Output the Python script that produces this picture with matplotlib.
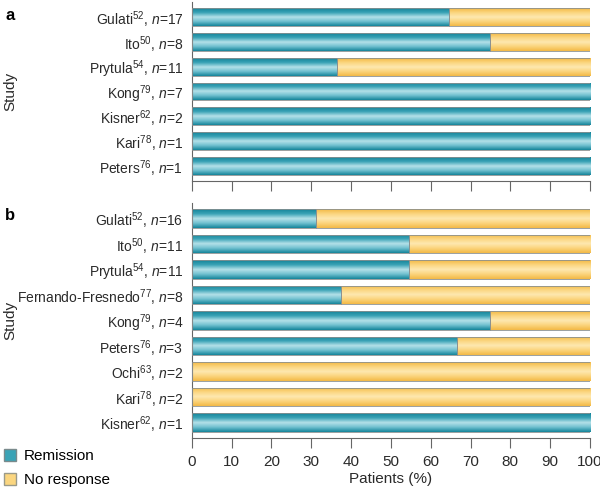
import numpy as np
import matplotlib.pyplot as plt
from matplotlib.colors import LinearSegmentedColormap
from matplotlib.patches import Patch

plt.rcParams["font.family"] = ["Liberation Sans", "DejaVu Sans"]
plt.rcParams["mathtext.fontset"] = "custom"
plt.rcParams["mathtext.rm"] = "Liberation Sans"
plt.rcParams["mathtext.it"] = "Liberation Sans:italic"

# -------------------------- Data --------------------------
studies_a = ["Gulati", "Ito", "Prytula", "Kong", "Kisner", "Kari", "Peters"]
refs_a = [52, 50, 54, 79, 62, 78, 76]
n_a = [17, 8, 11, 7, 2, 1, 1]
remission_a = [64.7, 75.0, 36.4, 100, 100, 100, 100]

studies_b = ["Gulati", "Ito", "Prytula", "Fernando-Fresnedo", "Kong", "Peters", "Ochi", "Kari", "Kisner"]
refs_b = [52, 50, 54, 77, 79, 76, 63, 78, 62]
n_b = [16, 11, 11, 8, 4, 3, 2, 2, 1]
remission_b = [31.25, 54.5, 54.5, 37.5, 75.0, 66.7, 0, 0, 100]

teal_cmap = LinearSegmentedColormap.from_list(
    "teal", ["#15849a", "#3aa3b6", "#b5e1e9", "#6fc0cf", "#15849a"])
yellow_cmap = LinearSegmentedColormap.from_list(
    "yellow", ["#f3b946", "#fbd680", "#fee8b0", "#fbd47c", "#f3b946"])
text_col = "#2a2a2a"


# -------------------------- Helpers --------------------------
def gradient_fill(ax, bars, cmap):
    grad = np.linspace(0, 1, 64).reshape(-1, 1)
    for bar in bars:
        w = bar.get_width()
        if w <= 0:
            continue
        x0, y0 = bar.get_x(), bar.get_y()
        h = bar.get_height()
        im = ax.imshow(grad, cmap=cmap, aspect="auto", interpolation="bilinear",
                       extent=(x0, x0 + w, y0 + h, y0), zorder=2)
        im.set_clip_path(bar)


def plot_panel(ax, studies, refs, ns, remission, show_xlabels):
    labels = [rf"{s}$^{{{r}}}$, $\it{{n}}$={n}" for s, r, n in zip(studies, refs, ns)]
    y = np.arange(len(studies))
    no_resp = [100 - v for v in remission]

    bars_r = ax.barh(y, remission, height=0.72, color="#2a97aa",
                     edgecolor="none", zorder=1)
    bars_n = ax.barh(y, no_resp, left=remission, height=0.72, color="#f8cc6a",
                     edgecolor="none", zorder=1)
    gradient_fill(ax, bars_r, teal_cmap)
    gradient_fill(ax, bars_n, yellow_cmap)
    # thin outlines on top of the gradients
    for b in list(bars_r) + list(bars_n):
        if b.get_width() > 0:
            ax.add_patch(plt.Rectangle((b.get_x(), b.get_y()), b.get_width(), b.get_height(),
                                       fill=False, edgecolor="#8a9090", linewidth=0.6, zorder=3))

    ax.set_yticks(y)
    ax.set_yticklabels(labels, fontsize=10, color=text_col)
    ax.set_ylim(len(studies) - 0.4, -0.6)
    ax.set_xlim(0, 100)
    ax.set_xticks(range(0, 101, 10))
    ax.tick_params(axis="y", length=0, pad=6)
    ax.tick_params(axis="x", length=7.5, width=0.8, color="#666666", direction="out",
                   labelsize=11, labelcolor=text_col, pad=5)
    if not show_xlabels:
        ax.tick_params(axis="x", labelbottom=False)
    for side in ["top", "right"]:
        ax.spines[side].set_visible(False)
    for side in ["left", "bottom"]:
        ax.spines[side].set_color("#666666")
        ax.spines[side].set_linewidth(0.8)
    ax.set_ylabel("Study", fontsize=11, color=text_col)
    ax.yaxis.set_label_coords(-(191.7 - 17) / (590 - 191.7), 0.5)


# -------------------------- Main --------------------------
fig = plt.figure(figsize=(6.0, 4.91), dpi=100)
W, H = 600, 491
ax_a = fig.add_axes([191.7 / W, 1 - 181 / H, (590 - 191.7) / W, (181 - 2) / H])
ax_b = fig.add_axes([191.7 / W, 1 - 438 / H, (590 - 191.7) / W, (438 - 203) / H])

plot_panel(ax_a, studies_a, refs_a, n_a, remission_a, show_xlabels=False)
plot_panel(ax_b, studies_b, refs_b, n_b, remission_b, show_xlabels=True)
ax_b.set_xlabel("Patients (%)", fontsize=11, color=text_col, labelpad=2)

fig.text(5 / W, 1 - 16 / H, "a", fontsize=12, fontweight="bold", va="center")
fig.text(5 / W, 1 - 216 / H, "b", fontsize=12, fontweight="bold", va="center")

handles = [Patch(facecolor="#3aa3b6", edgecolor="#7a8a8c", label="Remission"),
           Patch(facecolor="#fbd680", edgecolor="#9a9a8a", label="No response")]
fig.legend(handles=handles, loc="lower left", bbox_to_anchor=(0.0, 0.0), frameon=False,
           fontsize=11, handlelength=0.8, handleheight=0.8, handletextpad=0.5,
           labelspacing=0.65, borderpad=0.25, borderaxespad=0.0)

fig.savefig("out.png", dpi=100)
